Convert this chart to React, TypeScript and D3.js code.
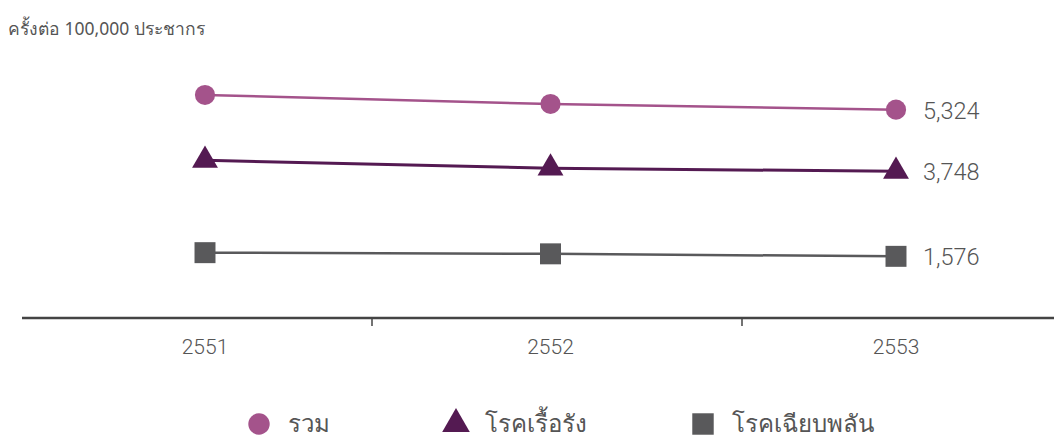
import React from "react";
import * as d3 from "d3";

// Incidence per 100,000 population, by year (Buddhist era)
const years = ["2551", "2552", "2553"];
const totalCases = [5700, 5470, 5324];
const chronicCases = [4030, 3830, 3748];
const acuteCases = [1670, 1640, 1576];

const seriesNames = ["รวม", "โรคเรื้อรัง", "โรคเฉียบพลัน"];
const unitLabel = "ครั้งต่อ 100,000 ประชากร";

const W = 1054;
const H = 438;
const FONT = "'Noto Sans', 'DejaVu Sans', sans-serif";
const NUM_FONT = "Roboto, 'Noto Sans', sans-serif";

const COLORS = ["#a4538b", "#541a52", "#59595b"];
const TEXT = "#555";

type Shape = "circle" | "triangle" | "square";
const shapes: Shape[] = ["circle", "triangle", "square"];

function Marker({ shape, x, y, color, size }: { shape: Shape; x: number; y: number; color: string; size: number }) {
  const sym =
    shape === "circle" ? d3.symbolCircle : shape === "triangle" ? d3.symbolTriangle : d3.symbolSquare;
  const path = d3.symbol().type(sym).size(size)() as string;
  return <path d={path} transform={`translate(${x},${y})`} fill={color} />;
}

const symbolSizes: Record<Shape, number> = { circle: 320, triangle: 290, square: 440 };

export default function App() {
  const x = d3.scalePoint<string>().domain(years).range([205, 896]);
  // band scale used for the axis tick marks between categories
  const band = d3.scaleBand<string>().domain(years).range([2, 1112]);
  const y = d3.scaleLinear().domain([0, 8000]).range([318, 5]);

  const seriesData = [totalCases, chronicCases, acuteCases];
  const line = d3
    .line<number>()
    .x((_, i) => x(years[i]) as number)
    .y((d) => y(d));

  const axisY = y(0);
  const widths = [2.5, 3, 2.5];

  const legendX = [259, 456, 703];
  const legendY = 423;

  return (
    <svg
      width={W}
      height={H}
      style={{ position: "absolute", left: 0, top: 0, background: "#fff" }}
      fontFamily={FONT}
    >
      <text x={8} y={35} fontSize={17.5} fill={TEXT}>
        {unitLabel}
      </text>

      {/* axis */}
      <line x1={22} x2={W} y1={axisY} y2={axisY} stroke="#444" strokeWidth={2.5} />
      {years.slice(1).map((yr) => (
        <line
          key={yr}
          x1={band(yr) as number}
          x2={band(yr) as number}
          y1={axisY}
          y2={axisY + 8}
          stroke="#444"
          strokeWidth={1.5}
        />
      ))}
      {years.map((yr) => (
        <text
          key={yr}
          x={x(yr) as number}
          y={354}
          fontSize={21}
          fontWeight={300}
          fontFamily={NUM_FONT}
          fill={TEXT}
          textAnchor="middle"
        >
          {yr}
        </text>
      ))}

      {/* series */}
      {seriesData.map((vals, si) => (
        <g key={si}>
          <path d={line(vals) as string} fill="none" stroke={COLORS[si]} strokeWidth={widths[si]} />
          {vals.map((v, i) => (
            <Marker
              key={i}
              shape={shapes[si]}
              x={x(years[i]) as number}
              y={y(v)}
              color={COLORS[si]}
              size={symbolSizes[shapes[si]]}
            />
          ))}
          <text
            x={(x(years[years.length - 1]) as number) + 27}
            y={y(vals[vals.length - 1]) + 9}
            fontSize={23.5}
            fontWeight={300}
            fontFamily={NUM_FONT}
            fill={TEXT}
          >
            {d3.format(",")(vals[vals.length - 1])}
          </text>
        </g>
      ))}

      {/* legend */}
      {seriesNames.map((name, si) => (
        <g key={name}>
          <Marker
            shape={shapes[si]}
            x={legendX[si]}
            y={legendY + 1}
            color={COLORS[si]}
            size={si === 0 ? 360 : si === 1 ? 330 : 460}
          />
          <text x={legendX[si] + 29} y={legendY + 9} fontSize={24} fill={TEXT}>
            {name}
          </text>
        </g>
      ))}
    </svg>
  );
}
